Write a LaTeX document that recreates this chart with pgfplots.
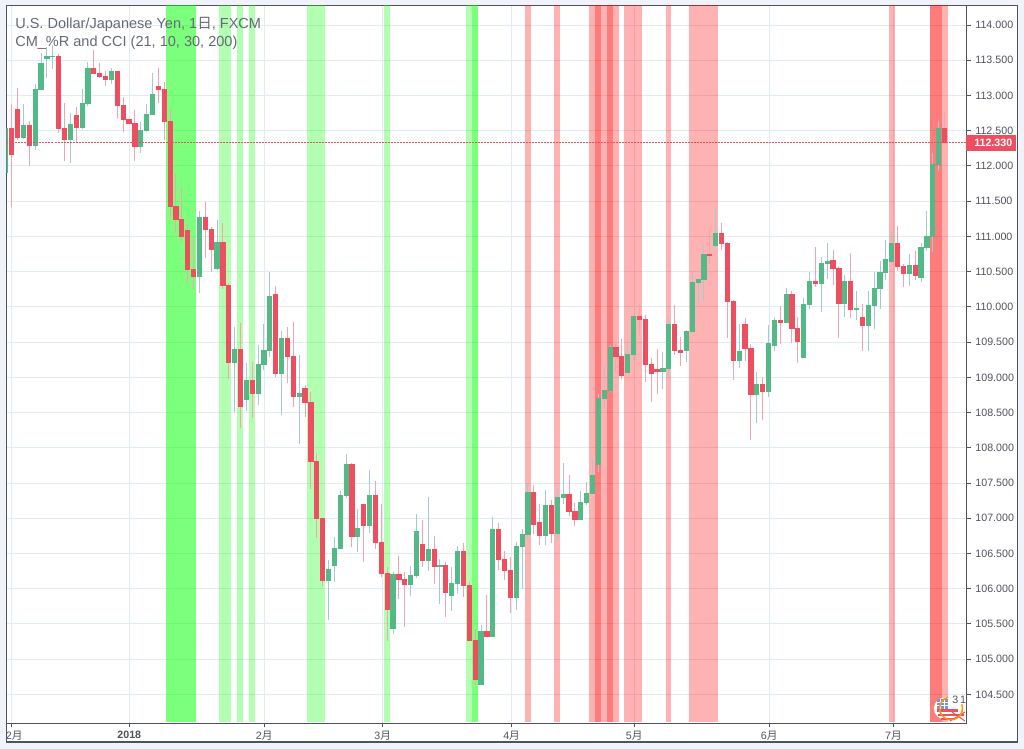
\documentclass[border=0pt]{standalone}
\usepackage{pgfplots}
\usepackage{pgfplotstable}
\usepackage{fontspec}
\pgfplotsset{compat=1.18}
\setmainfont{Liberation Sans}
\newfontfamily\cjk{Noto Sans CJK JP}
\definecolor{pagebg}{HTML}{F0F3FA}
\definecolor{frameline}{HTML}{50535E}
\definecolor{gridline}{HTML}{E1ECF2}
\definecolor{upbody}{HTML}{53B987}
\definecolor{dnbody}{HTML}{EE4F60}
\definecolor{upwick}{HTML}{A5CBD0}
\definecolor{dnwick}{HTML}{F5A3AE}
\definecolor{titlecol}{HTML}{666A75}
\definecolor{canton}{HTML}{6A9BD8}

% x = bar number, o h l c in yen
\pgfplotstableread{
x o h l c
-1 111.904 112.538 111.417 112.538
2 112.396 112.879 112.387 112.581
4 112.283 113.163 112.226 113.092
5 113.078 113.598 113.078 113.461
6 113.518 113.693 113.248 113.560
7 113.546 113.716 113.376 113.560
10 112.368 112.751 112.042 112.595
12 112.538 113.092 112.524 112.893
13 112.879 113.475 112.851 113.390
17 113.220 113.390 113.163 113.347
22 112.269 112.623 112.183 112.510
23 112.496 112.879 112.482 112.737
24 112.723 113.319 112.723 113.021
32 110.423 111.360 110.196 111.275
35 110.537 111.232 110.523 110.920
38 109.203 109.714 108.507 109.401
40 108.677 109.203 108.521 108.961
42 108.763 109.458 108.606 109.188
43 109.174 109.756 109.103 109.387
44 109.373 110.494 109.288 110.154
46 109.046 109.657 108.464 109.557
49 108.721 109.316 108.054 108.777
54 106.109 106.407 105.556 106.280
55 106.322 106.734 106.095 106.578
56 106.563 107.387 106.563 107.330
57 107.316 107.912 107.287 107.770
59 106.734 107.131 106.521 106.861
61 106.890 107.685 106.790 107.330
65 105.428 106.237 105.357 106.209
68 106.052 106.322 105.896 106.194
69 106.180 107.060 106.152 106.819
71 106.393 107.301 106.251 106.563
73 106.308 106.421 105.783 106.336
75 105.896 106.308 105.683 106.081
76 106.067 106.606 105.925 106.535
80 104.633 105.485 104.633 105.400
82 105.314 107.018 105.314 106.847
86 105.867 106.662 105.697 106.606
87 106.591 106.847 105.995 106.776
88 106.762 107.500 106.719 107.372
91 106.748 107.400 106.620 107.187
93 106.776 107.429 106.705 107.301
94 107.287 107.784 107.202 107.344
97 106.975 107.386 106.975 107.230
98 107.216 107.514 107.187 107.358
99 107.344 107.854 107.344 107.613
100 107.755 108.763 107.656 108.706
101 108.692 109.203 108.550 108.820
102 108.805 109.458 108.791 109.430
105 109.061 109.458 109.056 109.331
106 109.316 109.898 109.245 109.870
111 109.075 109.359 108.834 109.132
112 109.118 109.842 109.004 109.756
115 109.373 109.671 109.217 109.657
116 109.643 110.466 109.643 110.352
117 110.338 110.395 110.040 110.395
118 110.381 110.863 110.083 110.750
120 110.863 111.402 110.821 111.048
124 109.231 109.756 109.132 109.373
127 108.748 109.075 108.351 108.904
129 108.791 109.742 108.720 109.486
130 109.444 109.855 109.373 109.813
132 109.770 110.267 109.770 110.182
135 109.273 110.125 109.273 110.040
136 110.026 110.495 109.970 110.367
138 110.324 110.708 109.927 110.622
139 110.608 110.906 110.395 110.651
142 110.041 110.452 109.856 110.367
144 109.955 110.225 109.813 109.984
146 109.728 110.225 109.373 110.026
147 110.012 110.495 109.686 110.268
148 110.253 110.651 109.970 110.495
149 110.481 110.949 110.381 110.679
150 110.637 111.077 110.594 110.906
153 110.466 110.750 110.296 110.594
155 110.410 110.906 110.353 110.850
156 110.835 111.361 110.793 111.006
157 110.992 112.184 110.779 112.028
158 112.013 112.638 111.928 112.539
}\upbars

\pgfplotstableread{
x o h l c
0 112.538 112.879 111.422 112.155
1 112.808 113.106 112.368 112.396
3 112.581 112.638 112.004 112.283
8 113.560 113.589 112.467 112.524
9 112.538 112.893 112.070 112.368
11 112.723 112.836 112.325 112.538
14 113.390 113.645 113.305 113.305
15 113.319 113.461 113.248 113.262
16 113.276 113.347 113.134 113.220
18 113.347 113.347 112.666 112.851
19 112.865 112.978 112.482 112.652
20 112.666 112.666 112.595 112.595
21 112.609 112.794 112.070 112.269
25 113.134 113.390 112.893 113.078
26 113.092 113.191 112.368 112.623
27 112.638 112.794 111.275 111.417
28 111.431 111.885 111.048 111.233
29 111.247 111.701 110.920 110.991
30 111.091 111.190 110.338 110.523
31 110.537 110.991 110.253 110.423
33 111.275 111.488 110.693 111.090
34 111.104 111.133 110.494 110.806
36 110.920 111.190 110.253 110.295
37 110.310 110.338 108.975 109.203
39 109.401 109.770 108.280 108.578
41 108.961 109.217 108.422 108.763
45 110.182 110.295 109.004 109.046
47 109.557 109.714 108.919 109.288
48 109.302 109.785 108.578 108.720
50 108.848 108.891 108.437 108.636
51 108.650 108.792 107.415 107.798
52 107.812 107.912 106.719 106.989
53 107.003 107.003 106.038 106.109
58 107.770 107.784 106.592 106.734
60 107.202 107.202 106.379 106.890
62 107.330 107.529 106.563 106.649
63 106.663 107.202 106.166 106.209
64 106.223 106.308 105.258 105.698
66 106.209 106.464 105.854 106.123
67 106.138 106.237 105.456 106.052
70 106.634 106.975 106.308 106.393
72 106.563 106.748 106.067 106.308
74 106.336 106.379 105.598 105.939
77 106.535 106.649 105.882 106.038
78 106.052 106.095 105.258 105.258
79 105.272 105.414 104.633 104.704
81 105.400 105.911 105.314 105.314
83 106.847 106.932 106.265 106.407
84 106.421 106.535 106.123 106.251
85 106.265 106.449 105.655 105.867
89 107.372 107.471 106.776 106.904
90 106.946 107.202 106.620 106.748
92 107.187 107.258 106.648 106.776
95 107.344 107.613 107.031 107.088
96 107.102 107.216 106.889 106.975
103 109.430 109.473 109.075 109.288
104 109.302 109.543 108.976 109.018
107 109.870 110.040 109.600 109.813
108 109.827 109.884 108.933 109.174
109 109.189 109.274 108.649 109.047
110 109.118 109.402 108.763 109.075
113 109.756 110.026 109.316 109.373
114 109.387 109.572 109.160 109.344
119 110.750 111.090 110.608 110.721
121 111.048 111.190 110.806 110.892
122 110.906 110.920 109.557 110.068
123 110.083 110.097 108.961 109.231
125 109.756 109.841 109.231 109.401
126 109.415 109.472 108.110 108.748
128 108.904 109.004 108.394 108.791
131 109.813 110.012 109.472 109.770
133 110.182 110.224 109.486 109.685
134 109.699 109.855 109.203 109.501
137 110.367 110.850 110.282 110.324
140 110.665 110.807 110.310 110.537
141 110.551 110.580 109.558 110.041
143 110.367 110.764 109.842 109.955
145 109.856 110.041 109.373 109.728
151 110.906 111.148 110.509 110.566
152 110.580 110.608 110.282 110.466
154 110.594 110.793 110.381 110.438
159 112.539 112.770 112.326 112.326
}\dnbars

\pgfplotsset{
  gband/.style={fill=green!100!black,fill opacity=0.3,draw=none},
  rband/.style={fill=red,fill opacity=0.3,draw=none},
  wicks/.style={draw=none,mark=none,forget plot,
    error bars/.cd,y dir=minus,y explicit,error mark=none,
    error bar style={draw=#1,line width=0.75pt}},
  bodies/.style={draw=none,mark=none,forget plot,
    error bars/.cd,y dir=minus,y explicit,error mark=none,
    error bar style={draw=#1,line width=3.9pt}},
}
\newcommand{\band}[3]{\addplot[#1,forget plot] coordinates {(#2,104.108)(#2,114.28)(#3,114.28)(#3,104.108)} -- cycle;}

\begin{document}
\begin{tikzpicture}
\useasboundingbox (-4.875pt,-19.275pt) rectangle (763.125pt,542.475pt);
% px coords: same as the 1024x749 picture
\begin{scope}[x=0.75pt,y=-0.75pt,xshift=-4.875pt,yshift=542.475pt]
  \fill[pagebg] (0,0) rectangle (1024,749);
  \fill[white] (6.5,5.3) rectangle (1017.3,742);
  \draw[frameline,line width=1pt] (6.5,5.3) rectangle (1017.3,742);
\end{scope}
\begin{axis}[
  at={(0,0)},anchor=south west,
  scale only axis,width=720.15pt,height=538.5pt,
  xmin=-0.89,xmax=162.78,ymin=104.09,ymax=114.28,
  xtick={0,20.04,43.05,63.23,85.2,106.1,129.1,150.3},
  xticklabels={{\hspace{3.75pt}2{\cjk 月}},{\bfseries 2018},2{\cjk 月},3{\cjk 月},4{\cjk 月},5{\cjk 月},6{\cjk 月},7{\cjk 月}},
  ytick={104.5,105,...,114},
  xtick pos=bottom,ytick pos=right,yticklabel pos=right,
  tick align=outside,major tick length=3pt,
  tick style={frameline,line width=0.75pt},
  axis line style={frameline,line width=1pt},
  grid=major,major grid style={gridline,line width=0.75pt},
  tick label style={font=\fontsize{8}{9}\selectfont,text=frameline},
  xticklabel style={yshift=1pt},
  yticklabel style={/pgf/number format/.cd,fixed,fixed zerofill,precision=3,1000 sep={},assume math mode=true},
]
\band{gband}{26.30}{31.41}
\band{gband}{26.30}{31.41}
\band{gband}{35.33}{37.38}
\band{gband}{38.40}{39.42}
\band{gband}{40.45}{41.47}
\band{gband}{50.33}{53.40}
\band{gband}{63.46}{64.48}
\band{gband}{77.43}{79.48}
\band{gband}{78.45}{79.48}
\band{rband}{87.49}{88.51}
\band{rband}{92.43}{93.45}
\band{rband}{98.40}{103.51}
\band{rband}{99.42}{100.45}
\band{rband}{101.47}{102.49}
\band{rband}{104.36}{107.43}
\band{rband}{111.52}{112.37}
\band{rband}{115.44}{120.39}
\band{rband}{149.53}{150.55}
\band{rband}{156.52}{159.59}
\band{rband}{156.52}{158.57}

\addplot[wicks=upwick] table[x=x,y=h,y error minus expr=\thisrow{h}-\thisrow{l}] {\upbars};
\addplot[wicks=dnwick] table[x=x,y=h,y error minus expr=\thisrow{h}-\thisrow{l}] {\dnbars};
\addplot[bodies=upbody] table[x=x,y=c,y error minus expr=\thisrow{c}-\thisrow{o}] {\upbars};
\addplot[bodies=dnbody] table[x=x,y=o,y error minus expr=\thisrow{o}-\thisrow{c}] {\dnbars};

\addplot[dnbody,line width=0.75pt,dash pattern=on 1.5pt off 0.75pt,forget plot] coordinates {(-0.89,112.33)(162.78,112.33)};
\end{axis}
\begin{scope}[x=0.75pt,y=-0.75pt,xshift=-4.875pt,yshift=542.475pt]
  \node[anchor=base west,inner sep=0,text=titlecol,font=\fontsize{10.9}{12}\selectfont] at (15,28.5) {U.S. Dollar/Japanese Yen, 1{\cjk 日}, FXCM};
  \node[anchor=base west,inner sep=0,text=titlecol,font=\fontsize{10.9}{12}\selectfont] at (15,46.5) {CM\_\%R and CCI (21, 10, 30, 200)};
  \fill[dnbody] (966,135.3) rectangle (1016,150.7);
  \node[anchor=base west,inner sep=0,text=white,font=\fontsize{8}{9}\selectfont\bfseries] at (974,147) {112.330};
  % flag badge, bottom right
  \begin{scope}
    \clip (932,696) rectangle (966,722);
    \fill[white] (945,708.5) circle (11);
    \fill[white] (950,697) rectangle (965,703);
    \fill[dnbody] (937,709.5) rectangle (958,712);
    \fill[dnbody] (938,714) rectangle (964,716);
    \fill[dnbody] (941,718) rectangle (954,720);
    \draw[dnbody,line width=0.8pt] (950,721) -- (965,712) (952,712) -- (965,721);
    \fill[canton] (937,699.5) rectangle (948,709);
    \draw[white,line width=0.3pt] (937,702.5) -- (948,702.5) (937,705.5) -- (948,705.5) (940.5,699.5) -- (940.5,709) (944,699.5) -- (944,709);
    \draw[orange!85!yellow,line width=1.1pt] (948,697.2) arc (75:-200:-11.5);
    \node[anchor=base west,inner sep=0,text=frameline,font=\fontsize{8}{9}\selectfont] at (952,704) {3\hspace{1.5pt}1};
  \end{scope}
\end{scope}
\end{tikzpicture}
\end{document}
